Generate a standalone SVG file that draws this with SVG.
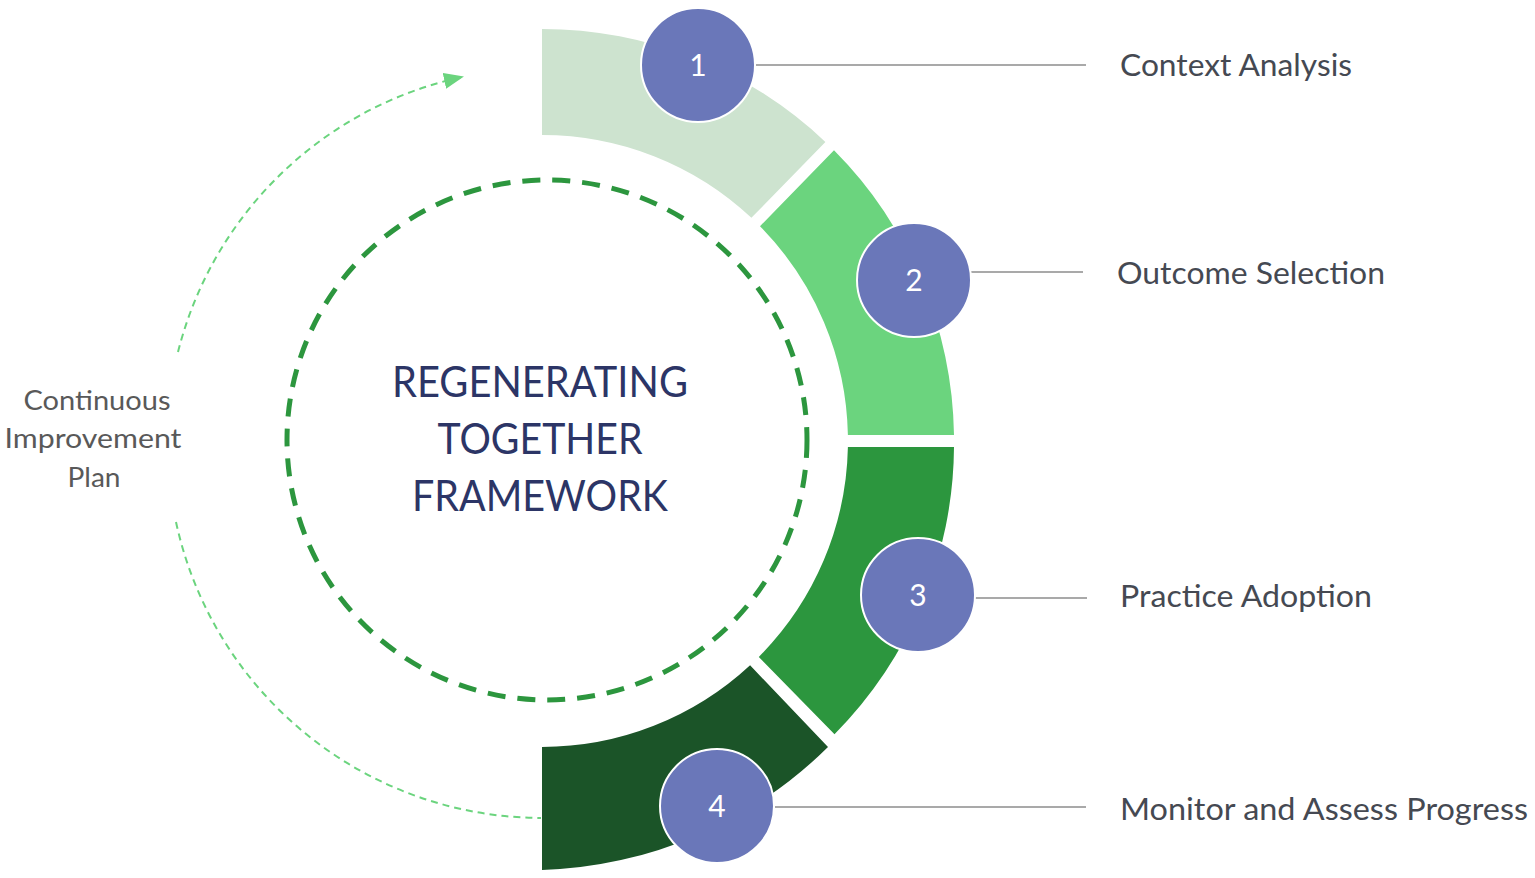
<svg xmlns="http://www.w3.org/2000/svg" width="1535" height="878" viewBox="0 0 1535 878">
  <defs>
    <marker id="arrowHead" viewBox="0 0 20 16" refX="18" refY="8" markerWidth="20" markerHeight="16" markerUnits="userSpaceOnUse" orient="auto">
      <path d="M0,0 L20,8 L0,16 Z" fill="#6BD47E"/>
    </marker>
  </defs>
  <style>
    .badge { fill: #6A77B9; stroke: #FFFFFF; stroke-width: 2; }
    .num { font-family: Lato, "Open Sans", "Liberation Sans", sans-serif; font-size: 30px; fill: #FFFFFF; text-anchor: middle; }
    .label { font-family: Lato, "Open Sans", "Liberation Sans", sans-serif; font-size: 30px; fill: #454952; }
    .side { font-family: Lato, "Open Sans", "Liberation Sans", sans-serif; font-size: 26px; fill: #595959; text-anchor: middle; }
    .title { font-family: Lato, "Open Sans", "Liberation Sans", sans-serif; font-size: 43px; fill: #2C3566; text-anchor: middle; }
    .leader { stroke: #8C8C8C; stroke-width: 1.6; fill: none; }
    .cycle { stroke: #6BD47E; stroke-width: 2; fill: none; stroke-dasharray: 7 5; }
  </style>
  <rect width="1535" height="878" fill="#FFFFFF"/>

  <g id="center">
    <circle cx="547" cy="440" r="260" fill="none" stroke="#2C963E" stroke-width="5" stroke-dasharray="18 12"/>
    <text class="title" x="540" y="397" textLength="296" lengthAdjust="spacingAndGlyphs">REGENERATING</text>
    <text class="title" x="540" y="454" textLength="205" lengthAdjust="spacingAndGlyphs">TOGETHER</text>
    <text class="title" x="540" y="511" textLength="256" lengthAdjust="spacingAndGlyphs">FRAMEWORK</text>
  </g>

  <g id="continuous-improvement">
    <text class="side" x="97" y="410" textLength="147" lengthAdjust="spacingAndGlyphs">Continuous</text>
    <text class="side" x="93" y="448" textLength="177" lengthAdjust="spacingAndGlyphs">Improvement</text>
    <text class="side" x="94" y="487" textLength="53" lengthAdjust="spacingAndGlyphs">Plan</text>
  </g>

  <g id="connectors">
    <path class="cycle" d="M178,352 A375 375 0 0 1 462,77" marker-end="url(#arrowHead)"/>
    <path class="cycle" d="M176,522 A375 375 0 0 0 541,818"/>
    <line class="leader" x1="755" y1="65" x2="1086" y2="65"/>
    <line class="leader" x1="971" y1="272" x2="1083" y2="272"/>
    <line class="leader" x1="975" y1="598" x2="1087" y2="598"/>
    <line class="leader" x1="775" y1="807" x2="1086" y2="807"/>
  </g>

  <g id="step1">
    <path d="M542,29 A412 412 0 0 1 825.4,141.9 L751.4,217.8 A306 306 0 0 0 542,135 Z" fill="#CDE3CF"/>
    <circle class="badge" cx="698" cy="65" r="57"/>
    <text class="num" x="698" y="76">1</text>
    <text class="label" x="1120" y="76" textLength="232" lengthAdjust="spacingAndGlyphs">Context Analysis</text>
  </g>

  <g id="step2">
    <path d="M834,150.3 A412 412 0 0 1 954,435 L847.9,435 A306 306 0 0 0 760,226.2 Z" fill="#6BD47E"/>
    <circle class="badge" cx="914" cy="280" r="57"/>
    <text class="num" x="914" y="291">2</text>
    <text class="label" x="1117" y="284" textLength="268" lengthAdjust="spacingAndGlyphs">Outcome Selection</text>
  </g>

  <g id="step3">
    <path d="M954,447 A412 412 0 0 1 834.5,734.2 L758.8,656.9 A306 306 0 0 0 847.9,447 Z" fill="#2C963E"/>
    <circle class="badge" cx="918" cy="595" r="57"/>
    <text class="num" x="918" y="606">3</text>
    <text class="label" x="1120" y="607" textLength="252" lengthAdjust="spacingAndGlyphs">Practice Adoption</text>
  </g>

  <g id="step4">
    <path d="M750.1,665.3 L828,747 A425 425 0 0 1 542,870 L542,747 A306 306 0 0 0 750.1,665.3 Z" fill="#1B5428"/>
    <circle class="badge" cx="717" cy="806" r="57"/>
    <text class="num" x="717" y="817">4</text>
    <text class="label" x="1120" y="820" textLength="408" lengthAdjust="spacingAndGlyphs">Monitor and Assess Progress</text>
  </g>
</svg>
